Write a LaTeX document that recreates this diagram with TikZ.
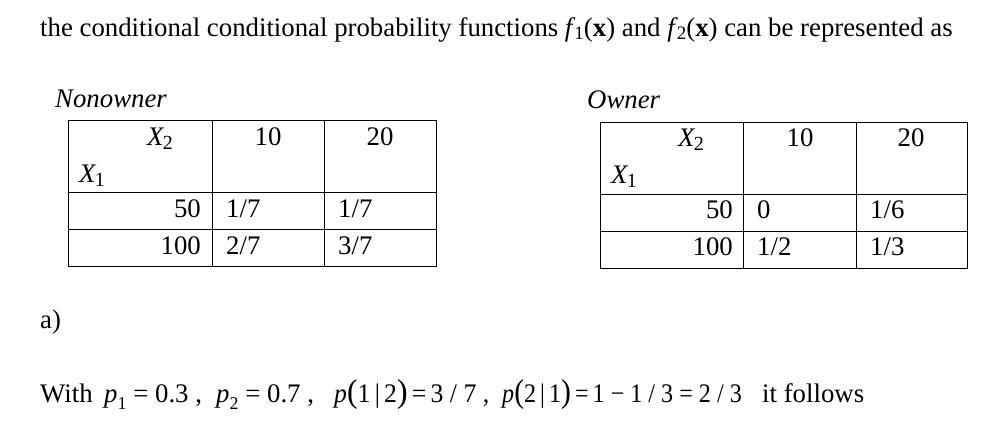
\documentclass[tikz,border=0pt]{standalone}
\usepackage{fontspec}
\setmainfont{Liberation Serif}
\newcommand\fs{\fontsize{26.8}{32}\selectfont}
\newcommand\ip{\textit{p}}
\newcommand\sub[1]{\raisebox{-0.28em}{\fontsize{18}{18}\selectfont #1}}
\newcommand\fsub[1]{\raisebox{-0.08em}{\fontsize{19}{19}\selectfont #1}}
\newcommand\xs[1]{\textit{X}\kern-1.5pt\raisebox{-0.12em}{\fontsize{20}{20}\selectfont #1}}
\newcommand\bigpar[1]{{\fontsize{33}{33}\selectfont #1}}
\begin{document}
\begin{tikzpicture}[x=1pt,y=-1pt,
  txt/.style={inner sep=0pt,font=\fs},
  bw/.style={txt,anchor=base west},
  be/.style={txt,anchor=base east},
  bc/.style={txt,anchor=base},
  grid/.style={line width=1pt,black}]
\useasboundingbox (0,0) rectangle (992,435);
% header line
\node[bw] (head) at (40,37) {the conditional conditional probability functions \textit{f}\kern-1pt\fsub{1}(\textbf{x}) and \textit{f}\kern-1pt\fsub{2}(\textbf{x}) can be represented as};
% Nonowner table
\node[bw] (nonlbl) at (55,108) {\textit{Nonowner}};
\draw[grid] (68,121) rectangle (436,267);
\draw[grid] (68,193) -- (436,193);
\draw[grid] (68,230) -- (436,230);
\draw[grid] (212,121) -- (212,267);
\draw[grid] (324,121) -- (324,267);
\node[bw] (nx2) at (147,146) {\xs{2}};
\node[bw] (nx1) at (79,183) {\xs{1}};
\node[bc] (nc10) at (268,146) {10};
\node[bc] (nc20) at (380,146) {20};
\node[be] (nr50) at (201,218) {50};
\node[be] (nr100) at (201,255) {100};
\node[bw] (na) at (226,218) {1/7};
\node[bw] (nb) at (338,218) {1/7};
\node[bw] (nc) at (226,255) {2/7};
\node[bw] (nd) at (338,255) {3/7};
% Owner table
\node[bw] (ownlbl) at (587,109) {\textit{Owner}};
\draw[grid] (600,123) rectangle (967,269);
\draw[grid] (600,195) -- (967,195);
\draw[grid] (600,232) -- (967,232);
\draw[grid] (743,123) -- (743,269);
\draw[grid] (856,123) -- (856,269);
\node[bw] (ox2) at (678,147) {\xs{2}};
\node[bw] (ox1) at (611,184) {\xs{1}};
\node[bc] (oc10) at (800,147) {10};
\node[bc] (oc20) at (911,147) {20};
\node[be] (or50) at (733,219) {50};
\node[be] (or100) at (733,256) {100};
\node[bw] (oa) at (757,219) {0};
\node[bw] (ob) at (870,219) {1/6};
\node[bw] (oc) at (757,256) {1/2};
\node[bw] (od) at (870,256) {1/3};
% part a
\node[bw] (parta) at (40,328) {a)};
\node[bw] (w1) at (40,402) {With};
\node[bw] (w2) at (104,402) {\ip\sub{1} = 0.3 ,};
\node[bw] (w3) at (216,402) {\ip\sub{2} = 0.7 ,};
\node[bw] (w4) at (334,402) {\scalebox{0.96}[1]{\ip\bigpar{(}1\,|\,2\bigpar{)}\,=\,3 / 7 ,}};
\node[bw] (w5) at (502,402) {\scalebox{0.9}[1]{\ip\bigpar{(}2\,|\,1\bigpar{)}\,=\,1 − 1 / 3 = 2 / 3}};
\node[bw] (w6) at (762,402) {it follows};
\end{tikzpicture}
\end{document}
